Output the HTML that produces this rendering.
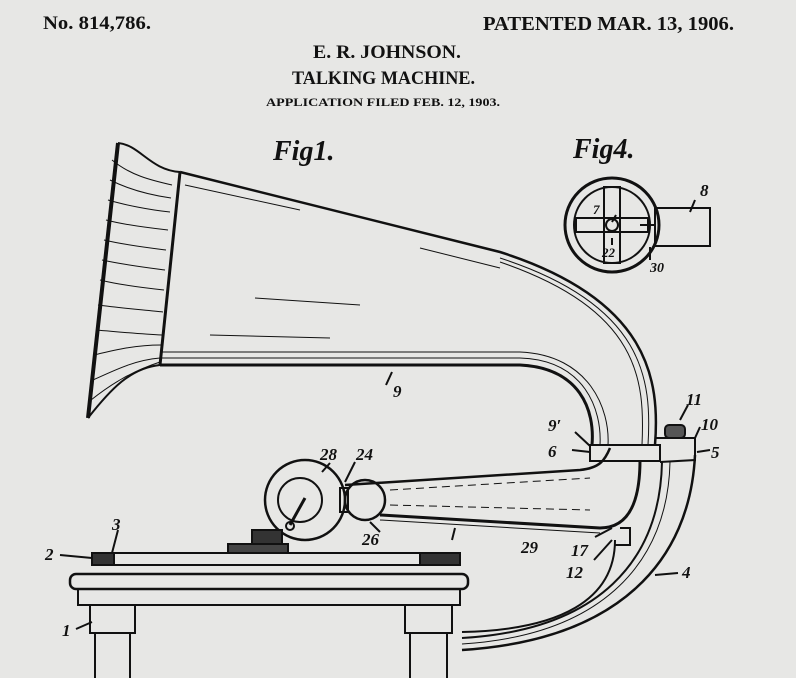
<!DOCTYPE html>
<html><head><meta charset="utf-8"><style>
html,body{margin:0;padding:0;background:#e7e7e5;}
svg{display:block}
text{font-family:"Liberation Serif",serif;fill:#111;}
.it{font-style:italic;font-weight:bold;}
</style></head><body>
<svg width="796" height="678" viewBox="0 0 796 678" xmlns="http://www.w3.org/2000/svg">
<rect width="796" height="678" fill="#e7e7e5"/>
<g font-weight="bold">
<text x="43" y="29" font-size="19" textLength="108" lengthAdjust="spacingAndGlyphs">No. 814,786.</text>
<text x="483" y="30" font-size="20" textLength="251" lengthAdjust="spacingAndGlyphs">PATENTED MAR. 13, 1906.</text>
<text x="313" y="58" font-size="19" textLength="148" lengthAdjust="spacingAndGlyphs">E. R. JOHNSON.</text>
<text x="292" y="84" font-size="19" textLength="183" lengthAdjust="spacingAndGlyphs">TALKING MACHINE.</text>
<text x="266" y="106" font-size="12" textLength="234" lengthAdjust="spacingAndGlyphs">APPLICATION FILED FEB. 12, 1903.</text>
</g>
<text x="273" y="160" font-size="28" class="it">Fig1.</text>
<text x="573" y="158" font-size="28" class="it">Fig4.</text>
<g fill="none" stroke="#111" stroke-width="2">
<!-- horn -->
<path d="M118,143 L88,418" stroke-width="4"/>
<path d="M118,143 C140,145 150,170 180,172"/>
<path d="M88,418 C110,390 130,368 160,365"/>
<path d="M180,172 L160,365" stroke-width="3"/>
<path d="M180,172 L500,252 C650,300 660,380 655,445" stroke-width="2.5"/>
<path d="M160,365 L520,365 C580,368 595,410 592,445" stroke-width="3"/>
<path d="M162,352 L520,352 C590,355 610,410 608,445" stroke-width="1"/>
<path d="M162,358 L520,358 C585,360 602,410 600,445" stroke-width="1"/>
<path d="M500,262 C640,310 645,380 642,445" stroke-width="1"/>
<path d="M500,258 C645,305 652,380 648,445" stroke-width="1"/>
<g stroke-width="1">
<path d="M112,160 C130,175 150,180 172,185"/>
<path d="M110,180 C130,190 150,195 171,198"/>
<path d="M108,200 C125,205 150,210 170,212"/>
<path d="M106,220 C125,225 150,228 168,230"/>
<path d="M104,240 C125,245 150,248 166,250"/>
<path d="M102,260 C125,265 150,268 165,270"/>
<path d="M100,280 C120,285 145,288 164,290"/>
<path d="M98,305 C120,308 145,310 163,312"/>
<path d="M96,330 C120,332 140,334 162,335"/>
<path d="M94,355 C115,350 135,345 161,345"/>
<path d="M93,380 C115,370 135,360 160,358"/>
<path d="M91,400 C110,385 130,372 160,362"/>
<path d="M255,298 L360,305"/><path d="M210,335 L330,338"/>
<path d="M185,185 L300,210"/><path d="M420,248 L500,268"/>
</g>
<!-- collar -->
<rect x="590" y="445" width="70" height="16" stroke-width="2"/>
<path d="M655,438 L695,438 L695,460 L660,462"/>
<rect x="665" y="425" width="20" height="13" rx="4" fill="#555"/>
<!-- support 4 -->
<path d="M695,455 C690,560 620,640 462,650" stroke-width="2.5"/>
<path d="M662,462 C660,560 600,630 462,638" stroke-width="2"/>
<path d="M670,462 C668,560 605,635 462,644" stroke-width="1"/>
<path d="M615,540 C615,600 560,630 462,632" stroke-width="2"/>
<!-- arm 29 -->
<path d="M345,485 L580,470 C600,468 605,460 610,448" stroke-width="2.5"/>
<path d="M380,515 L600,528 C630,528 640,500 640,460" stroke-width="3"/>
<path d="M380,520 L600,533" stroke-width="1"/>
<path d="M390,490 L590,478" stroke-width="1" stroke-dasharray="8,5"/>
<path d="M390,505 L590,510" stroke-width="1" stroke-dasharray="8,5"/>
<path d="M620,528 L630,528 L630,545 L615,545"/>
<!-- soundbox -->
<circle cx="305" cy="500" r="40" stroke-width="2.5"/>
<circle cx="300" cy="500" r="22" stroke-width="2"/>
<path d="M305,498 L290,525" stroke-width="3"/>
<circle cx="290" cy="526" r="4"/>
<circle cx="365" cy="500" r="20" stroke-width="2.5"/>
<rect x="340" y="488" width="8" height="24"/>
<!-- turntable -->
<rect x="92" y="553" width="368" height="12" stroke-width="2"/>
<rect x="92" y="553" width="22" height="12" fill="#333"/>
<rect x="420" y="553" width="40" height="12" fill="#333"/>
<rect x="228" y="544" width="60" height="9" fill="#444"/>
<rect x="252" y="530" width="30" height="14" fill="#333"/>
<rect x="70" y="574" width="398" height="15" rx="6" stroke-width="2.5"/>
<rect x="78" y="589" width="382" height="16" stroke-width="2"/>
<rect x="90" y="605" width="45" height="28" stroke-width="2"/>
<rect x="405" y="605" width="47" height="28" stroke-width="2"/>
<path d="M95,633 L95,678 M130,633 L130,678 M410,633 L410,678 M447,633 L447,678" stroke-width="2"/>
<!-- fig4 -->
<circle cx="612" cy="225" r="47" stroke-width="3"/>
<circle cx="612" cy="225" r="38" stroke-width="2"/>
<rect x="576" y="218" width="72" height="14"/>
<rect x="604" y="187" width="16" height="76"/>
<circle cx="612" cy="225" r="6"/>
<rect x="655" y="208" width="55" height="38" stroke-width="2"/>
<path d="M640,225 L655,225"/>
<!-- leaders -->
<path d="M386,385 L392,372 M575,432 L590,446 M572,450 L590,452 M697,452 L710,450 M330,463 L322,472 M355,462 L345,482 M380,532 L370,522 M452,540 L455,528 M595,537 L612,528 M594,560 L612,540 M688,405 L680,420 M700,427 L695,438 M655,575 L678,573 M60,555 L92,558 M118,530 L112,553 M76,629 L92,622 M695,200 L690,212 M612,238 L612,245 M650,247 L650,260 M616,215 L612,222"/>
</g>
<g class="it" font-size="17">
<text x="393" y="397">9</text>
<text x="548" y="431">9′</text>
<text x="548" y="457">6</text>
<text x="711" y="458">5</text>
<text x="686" y="405">11</text>
<text x="701" y="430">10</text>
<text x="320" y="460">28</text>
<text x="356" y="460">24</text>
<text x="362" y="545">26</text>
<text x="521" y="553">29</text>
<text x="571" y="556">17</text>
<text x="566" y="578">12</text>
<text x="682" y="578">4</text>
<text x="45" y="560">2</text>
<text x="112" y="530">3</text>
<text x="62" y="636">1</text>
<text x="700" y="196">8</text>
<text x="593" y="214" font-size="13">7</text>
<text x="602" y="257" font-size="13">22</text>
<text x="650" y="272" font-size="14">30</text>
</g>
</svg>
</body></html>
